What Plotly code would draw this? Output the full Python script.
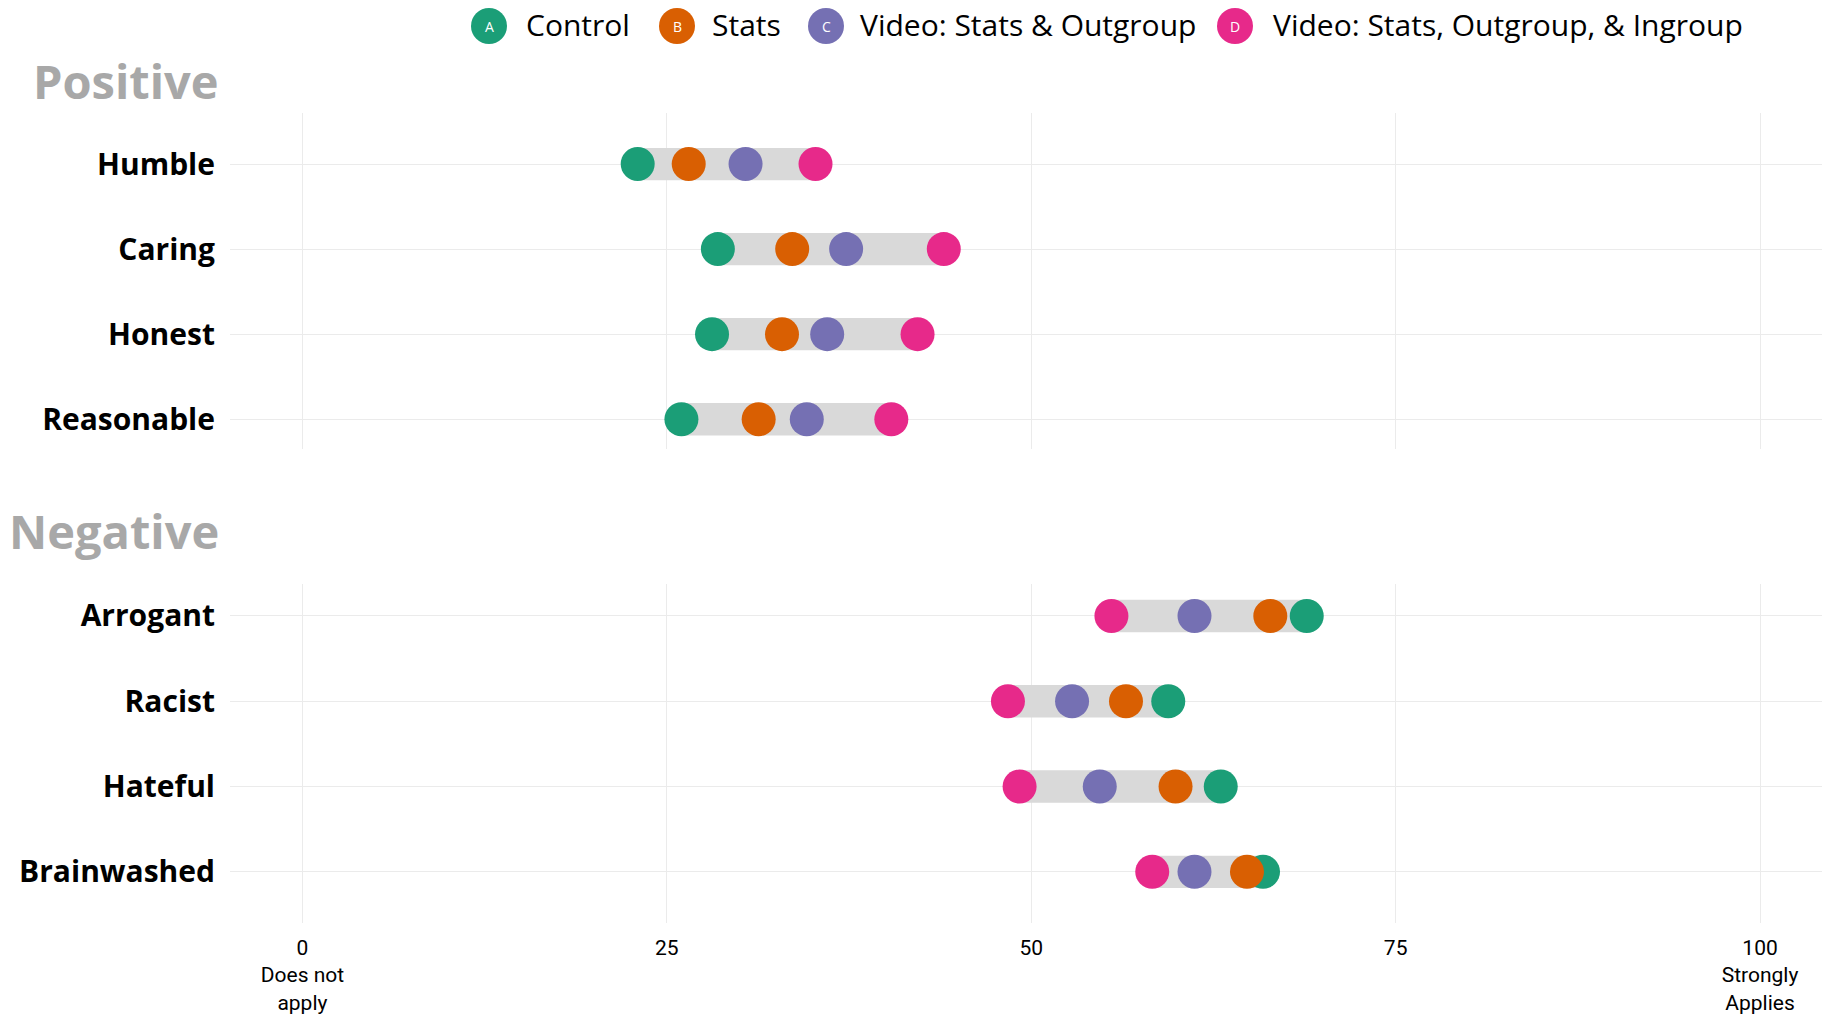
import plotly.graph_objects as go

# ratings (0 = does not apply, 100 = strongly applies)
traits_pos = ["Humble", "Caring", "Honest", "Reasonable"]
control_pos = [23.0, 28.5, 28.1, 26.0]
stats_pos = [26.5, 33.6, 32.9, 31.3]
video_out_pos = [30.4, 37.3, 36.0, 34.6]
video_in_pos = [35.2, 44.0, 42.2, 40.4]

traits_neg = ["Arrogant", "Racist", "Hateful", "Brainwashed"]
control_neg = [68.9, 59.4, 63.0, 65.9]
stats_neg = [66.4, 56.5, 59.9, 64.8]
video_out_neg = [61.2, 52.8, 54.7, 61.2]
video_in_neg = [55.5, 48.4, 49.2, 58.3]

groups = ["Control", "Stats", "Video: Stats & Outgroup", "Video: Stats, Outgroup, & Ingroup"]
letters = ["A", "B", "C", "D"]
colors = ["#1B9E77", "#D95F02", "#7570B3", "#E7298A"]

tick_vals = [0, 25, 50, 75, 100]
tick_text = ["0<br>Does not<br>apply", "25", "50", "75", "100<br>Strongly<br>Applies"]

W, H = 1822, 1014
L, R, T, B = 230, 0, 113, 91


def px(x):
    return (x - L) / (W - L - R)


def py(y):
    return (H - B - y) / (H - T - B)


fig = go.Figure()

panels = [
    ("x", "y", traits_pos, [control_pos, stats_pos, video_out_pos, video_in_pos]),
    ("x2", "y2", traits_neg, [control_neg, stats_neg, video_out_neg, video_in_neg]),
]
for xa, ya, traits, series in panels:
    lo = [min(v) for v in zip(*series)]
    hi = [max(v) for v in zip(*series)]
    fig.add_trace(go.Bar(
        y=traits, x=[h - l for l, h in zip(lo, hi)], base=lo, orientation="h",
        width=0.38, marker=dict(color="#D9D9D9", line=dict(width=0)),
        xaxis=xa, yaxis=ya, showlegend=False, hoverinfo="skip"))
    for name, vals, col in zip(groups, series, colors):
        fig.add_trace(go.Scatter(
            x=vals, y=traits, mode="markers", name=name,
            marker=dict(size=34, color=col, line=dict(width=0)),
            xaxis=xa, yaxis=ya, showlegend=False))

xrange = [-4.97, 104.25]
axis_x = dict(range=xrange, tickvals=tick_vals, showgrid=True, gridcolor="#EBEBEB",
              gridwidth=1.3, zeroline=False, showline=False, ticks="")
axis_y = dict(type="category", showgrid=True, gridcolor="#EBEBEB", gridwidth=1.3,
              zeroline=False, showline=False, ticks="", ticklabelstandoff=14,
              tickfont=dict(family="Open Sans", size=30, color="#000000", weight="bold"))

fig.update_layout(
    width=W, height=H,
    margin=dict(l=L, r=R, t=T, b=B),
    paper_bgcolor="white", plot_bgcolor="white",
    barmode="overlay",
    xaxis=dict(axis_x, domain=[0, 1], anchor="y", showticklabels=False, matches="x2"),
    xaxis2=dict(axis_x, domain=[0, 1], anchor="y2", ticktext=tick_text,
                tickfont=dict(family="Roboto", size=21, color="#000000"),
                ticklabelstandoff=10),
    yaxis=dict(axis_y, domain=[py(449), 1], categoryarray=traits_pos, range=[3.35, -0.6]),
    yaxis2=dict(axis_y, domain=[0, py(584)], categoryarray=traits_neg, range=[3.6, -0.375]),
)

# panel titles
for label, ypix in [("Positive", 81), ("Negative", 531)]:
    fig.add_annotation(text=label, xref="paper", yref="paper", x=px(221), y=py(ypix),
                       xanchor="right", yanchor="middle", showarrow=False,
                       font=dict(family="Open Sans", size=47, color="#A8A8A8", weight="bold"))

# legend drawn by hand so the keys can be large lettered circles
legend_circle_x = [489, 677, 826, 1235]
legend_text_x = [524, 710, 858, 1271]
legend_y = 26
for name, let, col, cx, tx in zip(groups, letters, colors, legend_circle_x, legend_text_x):
    fig.add_shape(type="circle", xref="paper", yref="paper", xsizemode="pixel", ysizemode="pixel",
                  xanchor=px(cx), yanchor=py(legend_y), x0=-18, x1=18, y0=-18, y1=18,
                  fillcolor=col, line=dict(width=0))
    fig.add_annotation(text=let, xref="paper", yref="paper", x=px(cx), y=py(legend_y),
                       xanchor="center", yanchor="middle", showarrow=False,
                       font=dict(family="Open Sans", size=14, color="white"))
    fig.add_annotation(text=name, xref="paper", yref="paper", x=px(tx), y=py(legend_y - 1),
                       xanchor="left", yanchor="middle", showarrow=False,
                       font=dict(family="Open Sans", size=30, color="#000000"))

# drop the default page margin so the figure sits at the window's corner
fig.write_html("out.html", config={"displayModeBar": False},
               post_script="document.body.style.margin='0';")
